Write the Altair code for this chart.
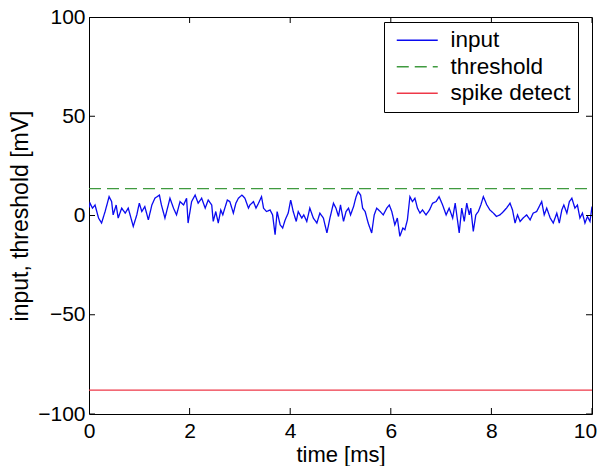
import altair as alt
import pandas as pd

# ---- data ----
time_ms = [0.00, 0.02, 0.07, 0.12, 0.19, 0.25, 0.32, 0.40, 0.45, 0.48, 0.54, 0.58, 0.65, 0.72, 0.78,
           0.88, 0.95, 1.00, 1.05, 1.11, 1.18, 1.25, 1.31, 1.40, 1.44, 1.51, 1.56, 1.61, 1.68, 1.74,
           1.81, 1.88, 1.94, 1.97, 2.04, 2.11, 2.17, 2.24, 2.31, 2.37, 2.44, 2.47, 2.52, 2.57, 2.62,
           2.66, 2.70, 2.75, 2.80, 2.87, 2.92, 2.97, 3.04, 3.10, 3.17, 3.20, 3.27, 3.32, 3.37, 3.43,
           3.47, 3.53, 3.60, 3.65, 3.70, 3.74, 3.80, 3.85, 3.90, 3.96, 4.01, 4.06, 4.12, 4.16, 4.23,
           4.27, 4.33, 4.39, 4.46, 4.53, 4.59, 4.66, 4.73, 4.79, 4.86, 4.91, 4.96, 5.00, 5.06, 5.11,
           5.16, 5.20, 5.26, 5.31, 5.35, 5.40, 5.44, 5.49, 5.55, 5.62, 5.67, 5.72, 5.79, 5.85, 5.92,
           5.97, 6.02, 6.08, 6.13, 6.18, 6.24, 6.28, 6.33, 6.38, 6.43, 6.48, 6.53, 6.58, 6.63, 6.70,
           6.77, 6.83, 6.90, 6.96, 7.03, 7.10, 7.16, 7.23, 7.28, 7.36, 7.41, 7.46, 7.51, 7.56, 7.59,
           7.64, 7.69, 7.74, 7.79, 7.84, 7.91, 7.97, 8.04, 8.10, 8.17, 8.24, 8.30, 8.37, 8.42, 8.47,
           8.52, 8.57, 8.63, 8.70, 8.77, 8.83, 8.90, 8.95, 9.00, 9.05, 9.10, 9.17, 9.23, 9.30, 9.35,
           9.40, 9.44, 9.50, 9.55, 9.60, 9.66, 9.71, 9.76, 9.81, 9.86, 9.91, 9.96, 10.00]
input_mv = [4.0, 6.2, 3.7, 5.3, -1.3, -3.8, 2.0, 9.5, 7.0, 0.3, 5.3, -1.3, 3.7, 1.2, 3.7,
            -5.5, 0.3, 6.2, 2.0, 4.5, -2.2, 5.3, 8.7, 10.3, 5.3, -1.3, 3.7, 8.7, 3.7, 0.3,
            7.0, 5.3, 8.7, -3.8, 7.0, 10.3, 6.2, 8.7, 3.7, 7.8, 5.3, -3.0, 2.0, -3.8, 2.8,
            0.3, 3.7, 7.8, 7.0, 1.2, 6.2, 8.7, 10.3, 8.7, 3.7, 5.3, 7.0, 3.7, 6.2, 9.5,
            3.7, 2.0, 2.8, 0.3, -9.7, 2.0, -4.7, -6.3, -2.2, 1.2, 7.8, 2.0, -3.0, 2.0, -1.3,
            0.3, -3.0, 3.7, -1.3, -3.8, 1.2, -1.3, -8.8, -1.3, 6.2, 3.7, -0.5, 5.3, -3.0, 2.0,
            3.7, 0.3, 4.5, 9.5, 12.0, 10.3, 3.7, 2.0, -3.8, -8.8, 0.3, 3.7, 2.0, 0.3, 3.7,
            5.3, 2.0, -4.7, -1.3, -10.5, -6.3, -7.2, -2.2, 9.5, 7.0, 8.7, 3.7, 1.2, 2.8, 0.3,
            2.8, 6.2, 7.0, 9.5, 5.3, 0.3, 3.7, -1.3, 6.2, -8.8, 3.7, -3.0, 6.2, 0.3, 3.7,
            -8.0, 0.3, 2.0, 5.3, 9.5, 5.3, 2.8, 1.2, -0.5, 0.3, 2.0, 3.7, 6.2, 2.8, -3.8,
            0.3, -3.0, -1.3, 0.3, -2.2, 1.2, 2.0, 4.5, 7.0, 0.3, 3.7, -1.3, -3.8, 1.2, -3.8,
            2.8, 5.3, 1.2, 7.0, 8.7, 3.7, 5.3, -1.3, 1.2, -3.8, -0.5, -3.0, 4.5]
threshold_mv = 13.5
spike_detect_mv = -88.0

series_names = ["input", "threshold", "spike detect"]
series_colors = ["#0a0af0", "#3f9a3f", "#ee3848"]
series_widths = [1.3, 1.3, 1.5]
series_dashes = [[1, 0], [12, 6], [1, 0]]

x_ticks = [0, 2, 4, 6, 8, 10]
y_ticks = [-100, -50, 0, 50, 100]

FONT = "Liberation Sans"
TICK_FS = 21
XTITLE_FS = 22
YTITLE_FS = 23
LEG_FS = 22.5

rows = [{"t": t, "v": v, "series": "input"} for t, v in zip(time_ms, input_mv)]
rows += [{"t": t, "v": threshold_mv, "series": "threshold"} for t in (0, 10)]
rows += [{"t": t, "v": spike_detect_mv, "series": "spike detect"} for t in (0, 10)]
df = pd.DataFrame(rows)

xscale = alt.Scale(domain=[0, 10], nice=False, zero=False)
yscale = alt.Scale(domain=[-100, 100], nice=False, zero=False)

lines = alt.Chart(df).mark_line(clip=True).encode(
    x=alt.X("t:Q", scale=xscale, title="time [ms]",
            axis=alt.Axis(values=x_ticks, ticks=False, domain=False, grid=False,
                          labelFlush=False, labelOverlap=False,
                          labelOffset={"condition": {"test": "datum.value == 10", "value": -7},
                                       "value": 0},
                          labelFont=FONT, labelFontSize=TICK_FS, labelColor="black",
                          labelPadding=6, titleFont=FONT, titleFontSize=XTITLE_FS,
                          titleFontWeight="normal", titleColor="black", titlePadding=3)),
    y=alt.Y("v:Q", scale=yscale, title="input, threshold [mV]",
            axis=alt.Axis(values=y_ticks, ticks=False, domain=False, grid=False,
                          labelOverlap=False,
                          labelFont=FONT, labelFontSize=TICK_FS, labelColor="black",
                          labelPadding=4, titleFont=FONT, titleFontSize=YTITLE_FS,
                          titleFontWeight="normal", titleColor="black", titlePadding=5)),
    color=alt.Color("series:N", scale=alt.Scale(domain=series_names, range=series_colors),
                    legend=alt.Legend(title=None, orient="none", legendX=295, legendY=5,
                                      symbolType="M-2,0H2", symbolSize=420,
                                      symbolStrokeWidth=1.3, symbolOffset=15,
                                      labelFont=FONT, labelFontSize=LEG_FS,
                                      labelColor="black",
                                      labelOffset=22, rowPadding=3.5, padding=7,
                                      strokeColor="black", fillColor="white",
                                      cornerRadius=0)),
    strokeDash=alt.StrokeDash("series:N",
                              scale=alt.Scale(domain=series_names, range=series_dashes),
                              legend=None),
    strokeWidth=alt.StrokeWidth("series:N",
                                scale=alt.Scale(domain=series_names, range=series_widths),
                                legend=None),
    detail="series:N",
)

xt = pd.DataFrame({"x": x_ticks})
yt = pd.DataFrame({"y": y_ticks})
tick_style = dict(color="black", size=12, thickness=1, clip=True, opacity=1)

bottom_ticks = alt.Chart(xt).mark_tick(orient="vertical", **tick_style).encode(
    x=alt.X("x:Q", scale=xscale), y=alt.datum(-100))
top_ticks = alt.Chart(xt).mark_tick(orient="vertical", **tick_style).encode(
    x=alt.X("x:Q", scale=xscale), y=alt.datum(100))
left_ticks = alt.Chart(yt).mark_tick(orient="horizontal", **tick_style).encode(
    y=alt.Y("y:Q", scale=yscale), x=alt.datum(0))
right_ticks = alt.Chart(yt).mark_tick(orient="horizontal", **tick_style).encode(
    y=alt.Y("y:Q", scale=yscale), x=alt.datum(10))

chart = alt.layer(lines, bottom_ticks, top_ticks, left_ticks, right_ticks).properties(
    width=503, height=397,
    autosize=alt.AutoSizeParams(type="none"),
    padding={"left": 81, "top": 9, "right": 5, "bottom": 52},
    background="white",
).configure_view(stroke="black", strokeWidth=1)

chart.save("out.html", embed_options={"renderer": "svg", "actions": False})
